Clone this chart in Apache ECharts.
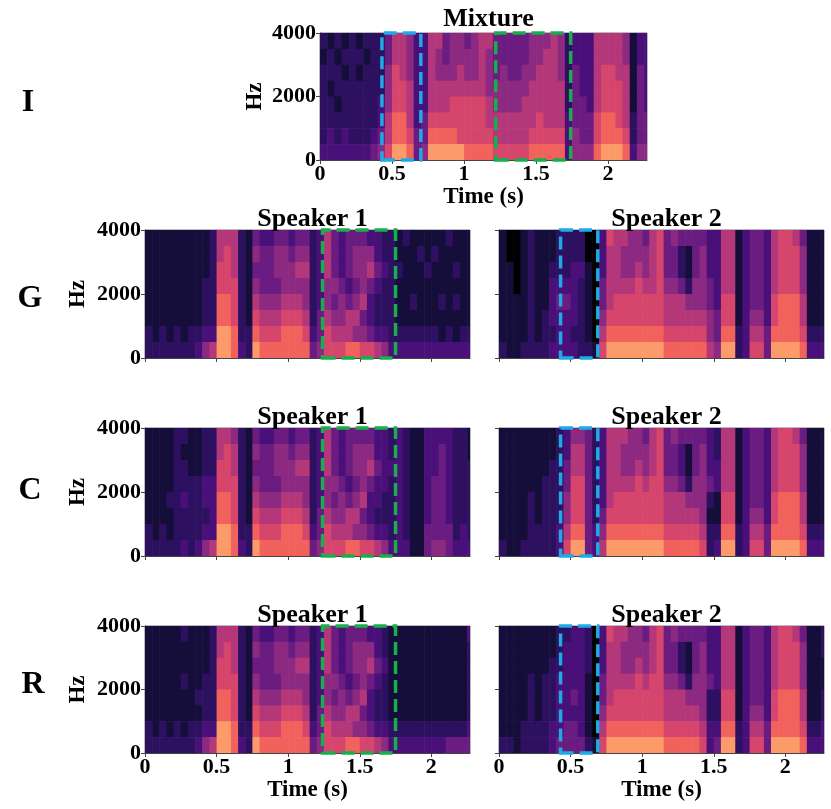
<!DOCTYPE html>
<html><head><meta charset="utf-8">
<script src="https://cdn.jsdelivr.net/npm/echarts@6/dist/echarts.min.js"></script>
<style>html,body{margin:0;padding:0;background:#fff}#c{width:831px;height:809px}</style>
</head><body><div id="c"></div>
<script>
// ---------------- data ----------------
const TIME_MAX = 2.27;          // seconds shown on the time axis
const FREQ_MAX = 4000;          // Hz
const T_STEP = 0.05;            // width of one spectrogram column (s)
const F_STEP = 500;             // height of one spectrogram row (Hz)
const timeTicks = [0, 0.5, 1, 1.5, 2];
const freqTicks = [0, 2000, 4000];
const rowLabels = ['I', 'G', 'C', 'R'];

// Magnitude levels 0..9; each string = one frequency band
// (top band 3500-4000 Hz first, bottom band 0-500 Hz last), one digit per 0.05 s column.
const mixtureRows = [
  "21212 12224 66533 66455 45664 44445 55652 33366 66513 3",
  "12122 21224 66533 65455 55654 44445 56652 33366 66513 3",
  "22212 12225 76533 65556 55654 54455 66652 43367 76614 3",
  "21222 22225 77633 66666 66655 55556 66662 43367 77614 3",
  "22122 22235 77633 66677 77765 55566 66662 44367 77614 3",
  "22222 22236 88634 77777 77766 66666 76663 44478 87624 4",
  "23232 22346 88744 88887 77776 66667 77773 54478 88724 4",
  "33333 33457 99845 99999 88887 77778 88883 55589 99835 5"
];
const gSpeaker1Rows = [
  "11111 11112 66621 43344 34423 64344 43322 12111 11211 1",
  "11111 11112 67621 54455 45523 64345 55322 11121 21111 1",
  "11111 11112 77621 44455 56623 64345 56432 21112 11121 1",
  "11111 11122 77721 54445 55523 55434 54322 11111 11111 1",
  "11111 11122 88721 65556 66523 54545 63222 11211 12121 1",
  "11111 11122 88721 76667 77624 65566 43222 11111 11111 1",
  "21212 12233 99822 87778 88734 76665 54332 22222 21212 2",
  "22222 22356 99832 98888 88845 77788 77653 33333 33333 3"
];
const gSpeaker2Rows = [
  "10012 11122 22003 76655 46745 44443 36613 44367 76411 1",
  "10012 11122 22003 66555 56744 21453 36613 44367 77511 1",
  "11012 11222 33103 66556 56744 21453 36613 44367 77511 1",
  "11012 11333 32104 66667 66755 42554 36613 44367 77511 1",
  "11112 11344 32104 67777 77766 65554 37713 44378 88611 1",
  "11112 12333 32105 77777 77766 66665 47713 55378 88611 1",
  "11112 12233 22106 88888 88877 77775 48823 66488 88722 2",
  "21122 22333 32217 99999 99988 88886 59923 77499 99833 3"
];
const cSpeaker1Rows = [
  "11112 21122 66521 43344 34423 64344 44332 32113 33322 1",
  "11112 11122 67621 54455 45523 64345 55332 32113 34322 1",
  "11112 21122 77621 44455 56623 64345 56433 32113 34322 2",
  "11112 22233 77721 54445 55523 55434 54332 32113 44322 2",
  "11122 32233 88721 65556 66523 54545 63322 32113 44322 2",
  "11112 22223 88721 76667 77624 65566 43222 32113 44322 2",
  "21212 22233 99822 87778 88734 76665 54332 32114 44423 2",
  "22222 32356 99832 98888 88845 77788 77653 33114 55433 3"
];
const cSpeaker2Rows = [
  "11111 11123 55423 66655 46745 44443 26613 44367 76411 1",
  "11111 11123 66423 66555 56744 31453 26613 44367 77511 1",
  "11111 11224 66423 66556 56744 31453 36613 44367 77511 1",
  "11111 12224 77423 66667 67755 42554 36613 44367 77511 1",
  "11112 12225 77423 67777 77766 65552 17713 44378 88611 1",
  "11112 12225 77424 77777 77766 66651 17713 55378 88611 1",
  "11112 22236 88435 88888 88877 77762 28823 66488 88722 2",
  "21122 22237 99436 99999 99988 88872 39923 77499 99833 3"
];
const rSpeaker1Rows = [
  "11111 21112 66621 43344 34423 64344 43321 11111 11111 3",
  "11111 11112 67621 54455 45523 64345 55321 11111 11111 2",
  "11111 11112 77621 44455 56623 64345 56431 11111 11111 2",
  "11111 21122 77721 54445 55523 55434 54321 11111 11111 2",
  "11111 11222 88721 65556 66523 54545 63221 11111 11111 2",
  "11111 11122 88721 76667 77624 65566 43221 11111 11111 2",
  "21212 12233 99822 87778 88734 76665 54332 22222 22222 3",
  "22222 22356 99832 98888 88845 77788 77653 33333 33444 4"
];
const rSpeaker2Rows = [
  "11111 11122 33203 76655 46745 44443 36613 44367 76411 2",
  "11111 11123 33203 66555 56744 21453 36613 44367 77511 2",
  "11111 11223 33203 66556 56744 21453 36613 44367 77511 1",
  "11112 12233 33104 66667 67755 42554 36613 44367 77511 1",
  "11112 12233 43104 67777 77766 65552 27713 44378 88611 2",
  "11112 12233 33105 77777 77766 66652 27713 55378 88611 2",
  "11122 22334 43106 88888 88877 77763 38823 66488 88722 3",
  "22122 22344 44217 99999 99988 88873 49923 77499 99833 3"
];
// highlighted time ranges (s)
const mixBlueBox = [0.43, 0.70];
const mixGreenBox = [1.22, 1.74];
const speaker1GreenBox = [1.24, 1.75];
const speaker2BlueBox = [0.43, 0.69];
const boxFreqRange = [-30, 4110];

// ---------------- helpers ----------------
function toCells(rows) {
  const out = [];
  rows.forEach((s, r) => {
    const digits = s.replace(/\s/g, '');
    for (let c = 0; c < digits.length; c++) {
      out.push([c * T_STEP, FREQ_MAX - F_STEP * (r + 1), +digits[c]]);
    }
  });
  return out;
}
const BLUE = '#1eaae6', GREEN = '#19ae4c';
const FONT = '"Liberation Serif", "Times New Roman", serif';

const panels = [
  {rows: mixtureRows, title: 'Mixture', grid: {left: 320, top: 33, width: 327, height: 127}, titleTop: 1,
   xLab: true, yLab: true, yGap: 53, boxes: [[mixBlueBox, BLUE], [mixGreenBox, GREEN]]},
  {rows: gSpeaker1Rows, title: 'Speaker 1', grid: {left: 145, top: 230, width: 325, height: 128}, titleTop: 201,
   xLab: false, yLab: true, yGap: 55, boxes: [[speaker1GreenBox, GREEN]]},
  {rows: gSpeaker2Rows, title: 'Speaker 2', grid: {left: 499, top: 230, width: 325, height: 128}, titleTop: 201,
   xLab: false, yLab: false, boxes: [[speaker2BlueBox, BLUE]]},
  {rows: cSpeaker1Rows, title: 'Speaker 1', grid: {left: 145, top: 428, width: 325, height: 128}, titleTop: 399,
   xLab: false, yLab: true, yGap: 55, boxes: [[speaker1GreenBox, GREEN]]},
  {rows: cSpeaker2Rows, title: 'Speaker 2', grid: {left: 499, top: 428, width: 325, height: 128}, titleTop: 399,
   xLab: false, yLab: false, boxes: [[speaker2BlueBox, BLUE]]},
  {rows: rSpeaker1Rows, title: 'Speaker 1', grid: {left: 145, top: 626, width: 325, height: 127}, titleTop: 597,
   xLab: true, yLab: true, yGap: 55, boxes: [[speaker1GreenBox, GREEN]]},
  {rows: rSpeaker2Rows, title: 'Speaker 2', grid: {left: 499, top: 626, width: 325, height: 127}, titleTop: 597,
   xLab: true, yLab: false, boxes: [[speaker2BlueBox, BLUE]]}
];
const rowLabelPos = [[28, 103], [30, 299], [30, 491], [33, 685]];

function renderCell(params, api) {
  const t = api.value(0), f = api.value(1);
  const p0 = api.coord([t, f + F_STEP]);
  const p1 = api.coord([t + T_STEP, f]);
  const cs = params.coordSys;
  const rect = echarts.graphic.clipRectByRect(
    {x: p0[0], y: p0[1], width: p1[0] - p0[0] + 0.6, height: p1[1] - p0[1] + 0.6},
    {x: cs.x, y: cs.y, width: cs.width, height: cs.height});
  return rect && {type: 'rect', shape: rect, style: {fill: api.visual('color')}};
}

const grids = [], xAxes = [], yAxes = [], series = [], titles = [];
const labelStyle = {fontFamily: FONT, fontWeight: 'bold', fontSize: 22, color: '#000'};
panels.forEach((p, i) => {
  grids.push(Object.assign({show: true, borderColor: '#777', borderWidth: 1, backgroundColor: 'transparent'}, p.grid));
  xAxes.push({
    type: 'value', gridIndex: i, min: 0, max: TIME_MAX, interval: 0.5,
    splitLine: {show: false},
    axisLine: {show: true, lineStyle: {color: '#444', width: 1}},
    axisTick: {show: true, length: 4, lineStyle: {color: '#444'}, customValues: timeTicks},
    axisLabel: Object.assign({show: p.xLab, margin: 3, customValues: timeTicks,
      formatter: v => (timeTicks.indexOf(v) >= 0 ? String(v) : '')}, labelStyle),
    name: p.xLab ? 'Time (s)' : '', nameLocation: 'middle', nameGap: 24,
    nameTextStyle: {fontFamily: FONT, fontWeight: 'bold', fontSize: 23, color: '#000'}
  });
  yAxes.push({
    type: 'value', gridIndex: i, min: 0, max: FREQ_MAX, interval: 2000,
    splitLine: {show: false},
    axisLine: {show: true, lineStyle: {color: '#444', width: 1}},
    axisTick: {show: true, length: 4, lineStyle: {color: '#444'}, customValues: freqTicks},
    axisLabel: Object.assign({show: p.yLab, margin: 4, customValues: freqTicks,
      formatter: v => String(v)}, labelStyle),
    name: p.yLab ? 'Hz' : '', nameLocation: 'middle', nameGap: p.yGap || 50, nameRotate: 90,
    nameTextStyle: {fontFamily: FONT, fontWeight: 'bold', fontSize: 23, color: '#000'}
  });
  series.push({
    type: 'custom', xAxisIndex: i, yAxisIndex: i, z: 1, silent: true,
    renderItem: renderCell, encode: {x: 0, y: 1}, data: toCells(p.rows)
  });
  series.push({
    type: 'line', xAxisIndex: i, yAxisIndex: i, data: [], clip: false, silent: true,
    markArea: {
      silent: true, z: 10, label: {show: false},
      itemStyle: {color: 'rgba(0,0,0,0)'},
      data: p.boxes.map(b => [
        {xAxis: b[0][0], yAxis: boxFreqRange[0],
         itemStyle: {color: 'rgba(0,0,0,0)', borderColor: b[1], borderWidth: 3.5, borderType: [13, 6]}},
        {xAxis: b[0][1], yAxis: boxFreqRange[1]}
      ])
    }
  });
  titles.push({
    text: p.title, left: p.grid.left + p.grid.width / 2, top: p.titleTop, textAlign: 'center',
    textStyle: {fontFamily: FONT, fontWeight: 'bold', fontSize: 26, color: '#000'}
  });
});

const cellSeries = series.map((s, k) => k).filter(k => k % 2 === 0);
const chart = echarts.init(document.getElementById('c'), null, {renderer: 'canvas'});
chart.setOption({
  animation: false,
  backgroundColor: '#ffffff',
  title: titles,
  grid: grids, xAxis: xAxes, yAxis: yAxes,
  visualMap: {
    show: false, type: 'continuous', min: 0, max: 9, dimension: 2, seriesIndex: cellSeries,
    inRange: {color: ['#000004', '#160e3a', '#2d1160', '#4a1079', '#6a1c81', '#8c2981',
                      '#b33779', '#d6456c', '#f2625d', '#fd9a6a']}
  },
  graphic: rowLabels.map((t, k) => ({
    type: 'text', x: rowLabelPos[k][0], y: rowLabelPos[k][1], silent: true,
    style: {text: t, font: 'bold 32px ' + FONT, fill: '#000', align: 'center', verticalAlign: 'middle'}
  })),
  series: series
});
</script></body></html>
